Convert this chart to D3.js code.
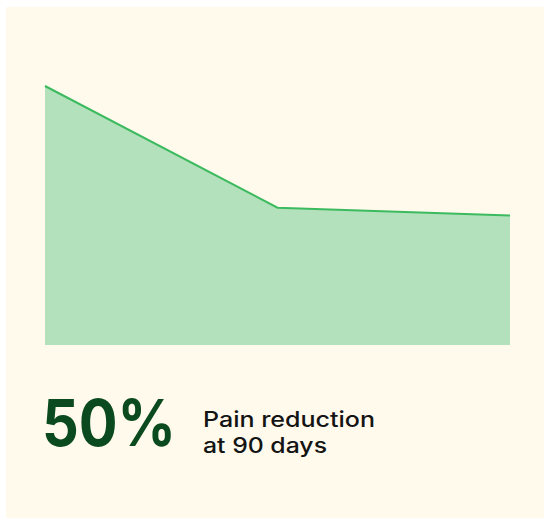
<!DOCTYPE html>
<html>
<head>
<meta charset="utf-8">
<script src="https://cdn.jsdelivr.net/npm/d3@7"></script>
<style>
html,body{margin:0;padding:0;background:#ffffff;overflow:hidden;}
svg{display:block;}
</style>
</head>
<body>
<svg id="chart" width="544" height="518"></svg>
<script>
const days = [0, 45, 90];
const painLevel = [100, 53, 50];
const headline = "50%";
const captionLines = ["Pain reduction", "at 90 days"];
const captionWidths = [172, 124];

const svg = d3.select("#chart");
const W = 544, H = 518;

svg.append("rect").attr("x", 6).attr("y", 7).attr("width", W - 6).attr("height", H - 7).attr("fill", "#fffaec");

const x = d3.scaleLinear().domain(d3.extent(days)).range([45, 510]);
const y = d3.scaleLinear().domain([0, 100]).range([345, 86]);

const data = days.map((d, i) => ({d, v: painLevel[i]}));

svg.append("path")
  .datum(data)
  .attr("fill", "#b3e1bb")
  .attr("d", d3.area().x(p => x(p.d)).y0(y(0)).y1(p => y(p.v)));

svg.append("path")
  .datum(data)
  .attr("fill", "none")
  .attr("stroke", "#3cba5f")
  .attr("stroke-width", 2)
  .attr("d", d3.line().x(p => x(p.d)).y(p => y(p.v)));

svg.append("text")
  .attr("x", 42).attr("y", 446)
  .attr("font-family", "Inter, 'Open Sans', sans-serif")
  .attr("font-weight", 700)
  .attr("font-size", 64)
  .attr("fill", "#0b4a1e")
  .attr("textLength", 134)
  .attr("lengthAdjust", "spacingAndGlyphs")
  .text(headline);

const cap = svg.append("text")
  .attr("font-family", "Inter, 'Open Sans', sans-serif")
  .attr("font-weight", 500)
  .attr("font-size", 21)
  .attr("fill", "#141414");
captionLines.forEach((t, i) => {
  cap.append("tspan").attr("x", 203).attr("y", 427 + i * 26)
    .attr("textLength", captionWidths[i])
    .attr("lengthAdjust", "spacingAndGlyphs")
    .text(t);
});
</script>
</body>
</html>
